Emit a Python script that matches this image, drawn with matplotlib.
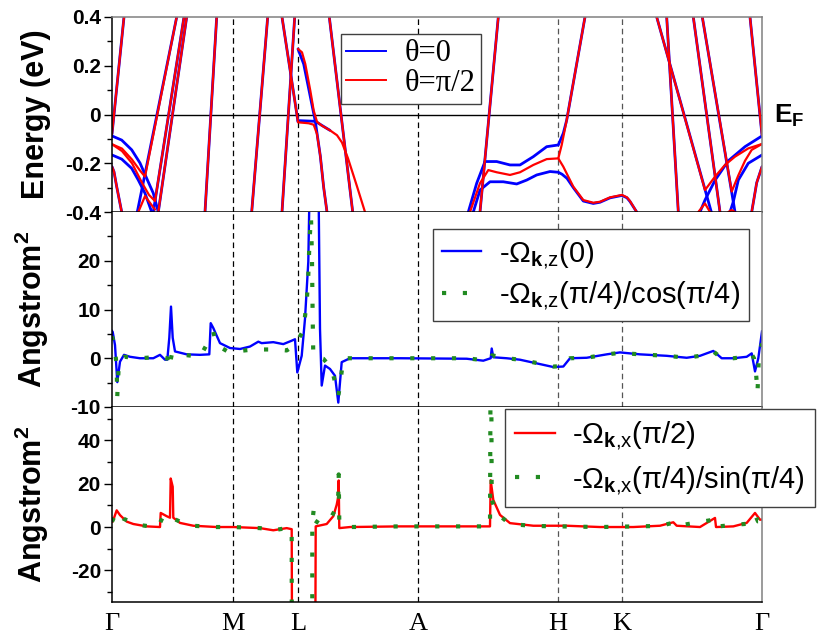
import matplotlib
matplotlib.use('Agg')
import matplotlib.pyplot as plt
from matplotlib.font_manager import FontProperties
from matplotlib.lines import Line2D
from matplotlib.transforms import blended_transform_factory

plt.rcParams['axes.unicode_minus'] = False
plt.rcParams['font.family'] = ['Liberation Sans', 'DejaVu Sans']
plt.rcParams['mathtext.fontset'] = 'custom'
plt.rcParams['mathtext.rm'] = 'Liberation Sans'
plt.rcParams['mathtext.bf'] = 'Liberation Sans:bold'
plt.rcParams['mathtext.it'] = 'Liberation Sans:italic'

# high-symmetry path
kpoints = [0.0, 1.21, 1.86, 3.06, 4.46, 5.10, 6.50]
klabels = ['Γ', 'M', 'L', 'A', 'H', 'K', 'Γ']

# ---- band structure (k, E in eV) ----
# bands that look the same for both magnetisation angles
common_bands = [
    [(0.00, -0.080), (0.12, 0.40)],
    [(0.00, -0.214), (0.02, -0.235), (0.047, -0.296), (0.097, -0.40)],
    [(0.463, -0.40), (0.747, 0.40)],
    [(0.93, -0.40), (1.047, 0.40)],
    [(1.397, -0.40), (1.557, 0.40)],
    [(1.70, 0.40), (1.86, -0.03)],
    [(1.70, -0.40), (1.827, 0.40)],
    [(2.173, 0.40), (2.407, -0.40)],
    [(3.68, -0.40), (3.863, 0.40)],
    [(5.547, 0.40), (5.663, -0.40)],
    [(5.813, 0.40), (6.08, -0.40)],
    [(6.38, 0.40), (6.50, -0.085)],
    [(6.50, -0.214), (6.447, -0.28), (6.397, -0.40)],
]

# theta = 0
blue_bands = [
    [(0.00, -0.088), (0.097, -0.105), (0.197, -0.145), (0.28, -0.199),
     (0.347, -0.262), (0.413, -0.323), (0.463, -0.40)],
    [(0.00, -0.166), (0.097, -0.183), (0.197, -0.221), (0.263, -0.269),
     (0.33, -0.323), (0.397, -0.40)],
    [(0.253, -0.40), (0.647, 0.40)],
    [(0.413, -0.40), (0.72, 0.40)],
    [(1.86, 0.269), (1.917, 0.207), (2.033, -0.028), (2.083, -0.17),
     (2.117, -0.30), (2.15, -0.40)],
    [(1.86, -0.025), (2.033, -0.028), (2.10, -0.045), (2.18, -0.065)],
    [(3.563, -0.40), (3.647, -0.282), (3.73, -0.193), (3.847, -0.193),
     (3.98, -0.207), (4.08, -0.207), (4.213, -0.173), (4.347, -0.132),
     (4.463, -0.125), (4.513, -0.077), (4.547, -0.023), (4.73, 0.40)],
    [(3.613, -0.40), (3.68, -0.31), (3.78, -0.276), (3.913, -0.276),
     (4.047, -0.285), (4.147, -0.269), (4.247, -0.248), (4.38, -0.234),
     (4.463, -0.237), (4.50, -0.245), (4.55, -0.262), (4.613, -0.30),
     (4.713, -0.355), (4.813, -0.365), (4.88, -0.36), (4.98, -0.342),
     (5.10, -0.332), (5.15, -0.342), (5.18, -0.357), (5.247, -0.40)],
    [(5.447, 0.40), (5.993, -0.40)],
    [(5.903, 0.40), (6.23, -0.40)],
    [(6.50, -0.088), (6.33, -0.132), (6.163, -0.19), (6.03, -0.27),
     (5.93, -0.351), (5.88, -0.40)],
    [(6.50, -0.166), (6.363, -0.20), (6.263, -0.269), (6.213, -0.358),
     (6.18, -0.40)],
]

# theta = pi/2
red_bands = [
    [(0.00, -0.122), (0.10, -0.14), (0.20, -0.185), (0.28, -0.23),
     (0.33, -0.255), (0.647, 0.40)],
    [(0.00, -0.122), (0.10, -0.15), (0.20, -0.20), (0.30, -0.28),
     (0.37, -0.33), (0.43, -0.355), (0.72, 0.40)],
    [(0.263, -0.40), (0.33, -0.335), (0.43, -0.39)],
    [(1.86, 0.269), (1.90, 0.255), (1.933, 0.207), (1.983, 0.098),
     (2.017, 0.016), (2.05, -0.03), (2.10, -0.046), (2.18, -0.065),
     (2.25, -0.085), (2.30, -0.115), (2.36, -0.18), (2.45, -0.295),
     (2.53, -0.40)],
    [(1.86, -0.032), (1.967, -0.036), (2.017, -0.042), (2.05, -0.08),
     (2.083, -0.17), (2.117, -0.30), (2.15, -0.40)],
    [(3.58, -0.40), (3.68, -0.282), (3.763, -0.228), (3.847, -0.237),
     (3.98, -0.248), (4.08, -0.237), (4.213, -0.207), (4.347, -0.183),
     (4.463, -0.180), (4.513, -0.214), (4.613, -0.296), (4.713, -0.351),
     (4.813, -0.362), (4.88, -0.358), (4.98, -0.34), (5.10, -0.330),
     (5.15, -0.34), (5.18, -0.355), (5.247, -0.40)],
    [(4.463, -0.180), (4.497, -0.125), (4.547, -0.023), (4.73, 0.40)],
    [(5.447, 0.40), (5.93, -0.31), (6.03, -0.255), (6.13, -0.207),
     (6.23, -0.173), (6.363, -0.139), (6.50, -0.121)],
    [(5.903, 0.40), (6.197, -0.316), (6.263, -0.25), (6.33, -0.19),
     (6.397, -0.145), (6.50, -0.121)],
    [(5.863, -0.40), (5.93, -0.365), (5.98, -0.40)],
    [(6.163, -0.40), (6.197, -0.392), (6.23, -0.40)],
]

# ---- Berry curvature, z component (Angstrom^2) ----
omz0_k = [0.0, 0.007, 0.03, 0.053, 0.08, 0.12, 0.18, 0.28, 0.413, 0.48, 0.53,
          0.553, 0.573, 0.59, 0.607, 0.63, 0.747, 0.88, 0.973, 0.987, 1.013,
          1.08, 1.18, 1.28, 1.38, 1.463, 1.497, 1.613, 1.713, 1.797, 1.83,
          1.853, 1.897, 1.93, 1.963, 1.98, 2.063, 2.08, 2.097, 2.13, 2.18,
          2.23, 2.263, 2.297, 2.38, 2.88, 3.547, 3.713, 3.787, 3.797, 3.813,
          3.947, 4.08, 4.28, 4.413, 4.513, 4.58, 4.747, 4.947, 5.08, 5.28,
          5.547, 5.747, 5.88, 6.013, 6.097, 6.213, 6.347, 6.397, 6.43, 6.463,
          6.50]
omz0_v = [5.6, 5.4, 2.7, -4.9, -0.7, 0.7, 0.3, 0.0, 0.0, 0.7, -0.3,
          -0.3, 4.2, 10.6, 4.2, 1.4, 0.8, 0.7, 0.8, 7.2, 6.2,
          3.1, 2.1, 1.9, 2.4, 3.4, 3.1, 3.3, 2.9, 3.6, 3.9,
          -2.9, 0.5, 8.1, 19.8, 40.0, 40.0, 6.0, -5.6, -1.5, -2.2,
          -3.6, -9.1, -0.8, 0.0, 0.0, -0.1, -0.5, 0.0, 2.0, 0.2,
          0.0, -0.3, -1.2, -1.8, -1.7, 0.0, 0.1, 0.8, 1.2, 0.8,
          0.5, 0.1, 0.5, 1.5, 0.0, 0.0, 0.3, 1.0, -2.7, 0.0,
          5.5]

omz45_k = [0.0, 0.03, 0.047, 0.052, 0.07, 0.12, 0.28, 0.48, 0.553, 0.57, 0.60,
           0.72, 0.88, 0.99, 1.013, 1.047, 1.147, 1.28, 1.413, 1.613, 1.747,
           1.813, 1.847, 1.913, 1.947, 1.963, 1.975, 1.99, 2.0, 2.007, 2.013,
           2.113, 2.197, 2.263, 2.28, 2.313, 2.38, 2.88, 3.547, 3.713, 3.787,
           3.80, 3.947, 4.08, 4.28, 4.413, 4.513, 4.58, 4.747, 4.947, 5.08,
           5.28, 5.547, 5.747, 5.88, 6.013, 6.097, 6.213, 6.347, 6.397, 6.42,
           6.44, 6.455, 6.47, 6.50]
omz45_v = [4.5, 1.7, -1.7, -8.0, -0.5, 0.3, 0.0, 0.3, 0.0, -2.0, 1.0,
           0.7, 0.3, 4.4, 5.4, 2.7, 1.5, 1.5, 1.8, 1.8, 1.6,
           2.5, 3.3, 5.7, 11.5, 17.1, 24.0, 29.0, 20.0, 8.0, 0.5,
           -0.1, -2.1, -7.7, -5.6, 0.0, 0.0, 0.0, 0.0, -0.4, 0.0,
           0.6, 0.0, -0.3, -1.1, -1.7, -1.6, 0.0, 0.1, 0.8, 1.1,
           0.8, 0.5, 0.1, 0.5, 1.4, 0.0, 0.0, 0.3, 0.8, 0.0,
           -3.0, -7.0, 1.0, 3.0]

# ---- Berry curvature, x component (Angstrom^2) ----
omx90_k = [0.0, 0.007, 0.047, 0.08, 0.147, 0.213, 0.347, 0.48, 0.487, 0.547,
           0.58, 0.587, 0.607, 0.613, 0.68, 0.813, 1.047, 1.213, 1.48, 1.613,
           1.747, 1.797, 1.803, 2.03, 2.037, 2.147, 2.213, 2.247, 2.263, 2.267,
           2.273, 2.38, 2.88, 3.78, 3.787, 3.813, 3.88, 3.98, 4.213, 4.547,
           4.88, 5.213, 5.48, 5.613, 5.647, 5.88, 6.03, 6.04, 6.213, 6.347,
           6.43, 6.48, 6.50]
omx90_v = [2.5, 2.5, 7.7, 5.5, 2.5, 1.4, 0.3, 0.0, 6.5, 5.0,
           4.3, 22.4, 18.6, 4.3, 1.9, 0.6, 0.0, 0.0, -0.5, -1.5,
           -0.5, -1.0, -100.0, -100.0, 0.3, 1.4, 5.0, 10.3, 14.2, 21.5,
           -0.5, 0.0, 0.3, 0.3, 21.6, 12.5, 5.6, 1.8, 0.6, 0.6,
           0.0, 0.0, 0.6, 2.2, 0.6, 0.0, 4.2, 0.0, 0.3, 1.9,
           6.5, 3.4, 3.4]

omx45_k = [0.0, 0.047, 0.113, 0.247, 0.38, 0.47, 0.48, 0.52, 0.613, 0.68,
           0.797, 1.047, 1.213, 1.48, 1.613, 1.747, 1.79, 1.797, 1.798, 2.002,
           2.003, 2.02, 2.03, 2.08, 2.197, 2.247, 2.263, 2.267, 2.273, 2.38,
           2.88, 3.78, 3.786, 3.792, 3.797, 3.847, 3.98, 4.213, 4.88, 5.48,
           5.613, 5.647, 6.03, 6.04, 6.347, 6.43, 6.46, 6.50]
omx45_v = [2.5, 7.2, 3.9, 1.1, 0.3, 0.3, 1.9, 5.7, 3.9, 2.5,
           0.6, 0.0, 0.0, -0.5, -1.5, -0.5, -1.0, -5.0, -100.0, -100.0,
           2.5, 9.0, 3.0, 1.4, 5.0, 9.2, 15.0, 24.3, 1.9, 0.0,
           0.3, 0.3, 80.0, 80.0, 12.5, 6.3, 1.4, 0.5, 0.0, 0.5,
           2.0, 0.5, 3.5, 0.2, 1.5, 5.7, 2.6, 2.6]

BLUE = '#0000ff'
RED = '#ff0000'
GREEN = '#228B22'
LW = 1.4

fig = plt.figure(figsize=(8.17, 6.39), dpi=100)
left, width, h = 112 / 817, 650 / 817, 195 / 639
ax1 = fig.add_axes([left, 427 / 639, width, h])
ax2 = fig.add_axes([left, 232 / 639, width, h])
ax3 = fig.add_axes([left, 37 / 639, width, h])

for ax in (ax1, ax2, ax3):
    ax.set_xlim(kpoints[0], kpoints[-1])
    for kp, col in zip(kpoints[1:-1], ['k', 'k', 'k', '#555555', '#555555']):
        ax.axvline(kp, color=col, lw=0.9, ls=(0, (4.5, 3)), zorder=1)
    ax.spines['right'].set_color('#808080')
    ax.spines['top'].set_color('#808080')
    for s in ax.spines.values():
        s.set_linewidth(1.1)
    ax.tick_params(axis='x', length=0, labelbottom=False)
    ax.tick_params(axis='y', which='major', direction='out', length=6,
                   width=1, labelsize=15, pad=2)
    ax.tick_params(axis='y', which='minor', direction='out', length=3.5, width=1)
    ax.yaxis.set_label_coords(-0.094, 0.5)
ax2.spines['top'].set_visible(False)
ax3.spines['top'].set_visible(False)
ax1.spines['bottom'].set_zorder(5)
ax2.spines['bottom'].set_zorder(5)

# ---- top: bands ----
ax1.axhline(0, color='k', lw=1, zorder=1.5)
for b in common_bands + blue_bands:
    k, e = zip(*b)
    ax1.plot(k, e, color=BLUE, lw=LW + 0.6, solid_capstyle='round')
for b in common_bands + red_bands:
    k, e = zip(*b)
    ax1.plot(k, e, color=RED, lw=LW + 0.2, solid_capstyle='round')
ax1.set_ylim(-0.4, 0.4)
ax1.set_yticks([-0.4, -0.2, 0, 0.2, 0.4])
ax1.set_yticklabels(['-0.4', '-0.2', '0', '0.2', '0.4'])
ax1.set_yticks([-0.3, -0.1, 0.1, 0.3], minor=True)
ax1.set_ylabel('Energy (eV)', fontsize=22, fontweight='bold')
tr = blended_transform_factory(ax1.transAxes, ax1.transData)
ax1.text(1.018, -0.005, r'E$_\mathbf{F}$', transform=tr, fontsize=19,
         fontweight='bold', ha='left', va='center')
h1 = [Line2D([], [], color=BLUE, lw=LW), Line2D([], [], color=RED, lw=LW)]
ax1.legend(h1, ['θ=0', 'θ=π/2'], loc='upper left', bbox_to_anchor=(0.352, 0.913),
           borderaxespad=0, prop=FontProperties(family='Liberation Serif', size=22),
           fancybox=False, edgecolor='#404040', framealpha=1, handlelength=1.3,
           handletextpad=0.6, labelspacing=0.02, borderpad=0.18)

# ---- middle: Omega_z ----
DOTS = dict(color=GREEN, lw=3.0, ls=(0, (1, 4.0)), dash_capstyle='butt')
ax2.plot(omz0_k, omz0_v, color=BLUE, lw=LW + 0.3,
         label=r'-Ω$_{\mathbf{k}{,}\mathrm{z}}$(0)')
ax2.plot(omz45_k, omz45_v, **DOTS,
         label=r'-Ω$_{\mathbf{k}{,}\mathrm{z}}$(π/4)/cos(π/4)')
ax2.set_ylim(-10, 30)
ax2.set_yticks([-10, 0, 10, 20])
ax2.set_yticks([-5, 5, 15, 25], minor=True)
ax2.set_ylabel(r'Angstrom$^\mathbf{2}$', fontsize=22, fontweight='bold')
ax2.legend(loc='upper left', bbox_to_anchor=(0.494, 0.913), borderaxespad=0,
           fontsize=21, fancybox=False, edgecolor='#404040', framealpha=1,
           handlelength=1.35, handletextpad=0.6, labelspacing=0.3, borderpad=0.3)

# ---- bottom: Omega_x ----
ax3.plot(omx90_k, omx90_v, color=RED, lw=LW + 0.3,
         label=r'-Ω$_{\mathbf{k}{,}\mathrm{x}}$(π/2)')
ax3.plot(omx45_k, omx45_v, **DOTS,
         label=r'-Ω$_{\mathbf{k}{,}\mathrm{x}}$(π/4)/sin(π/4)')
ax3.set_ylim(-34.6, 55.4)
ax3.set_yticks([-20, 0, 20, 40])
ax3.set_yticks([-30, -10, 10, 30, 50], minor=True)
ax3.set_ylabel(r'Angstrom$^\mathbf{2}$', fontsize=22, fontweight='bold')
ax3.legend(loc='upper left', bbox_to_anchor=(0.605, 0.99), borderaxespad=0,
           fontsize=21, fancybox=False, edgecolor='#404040', framealpha=1,
           handlelength=1.35, handletextpad=0.6, labelspacing=0.4, borderpad=0.35)

ax3.set_xticks(kpoints)
ax3.set_xticklabels(klabels, fontfamily='Liberation Serif', fontsize=19)
ax3.tick_params(axis='x', labelbottom=True, pad=8)

for ax in (ax1, ax2, ax3):
    for lab in ax.get_yticklabels():
        lab.set_fontweight('bold')

fig.savefig('out.png', dpi=100)
